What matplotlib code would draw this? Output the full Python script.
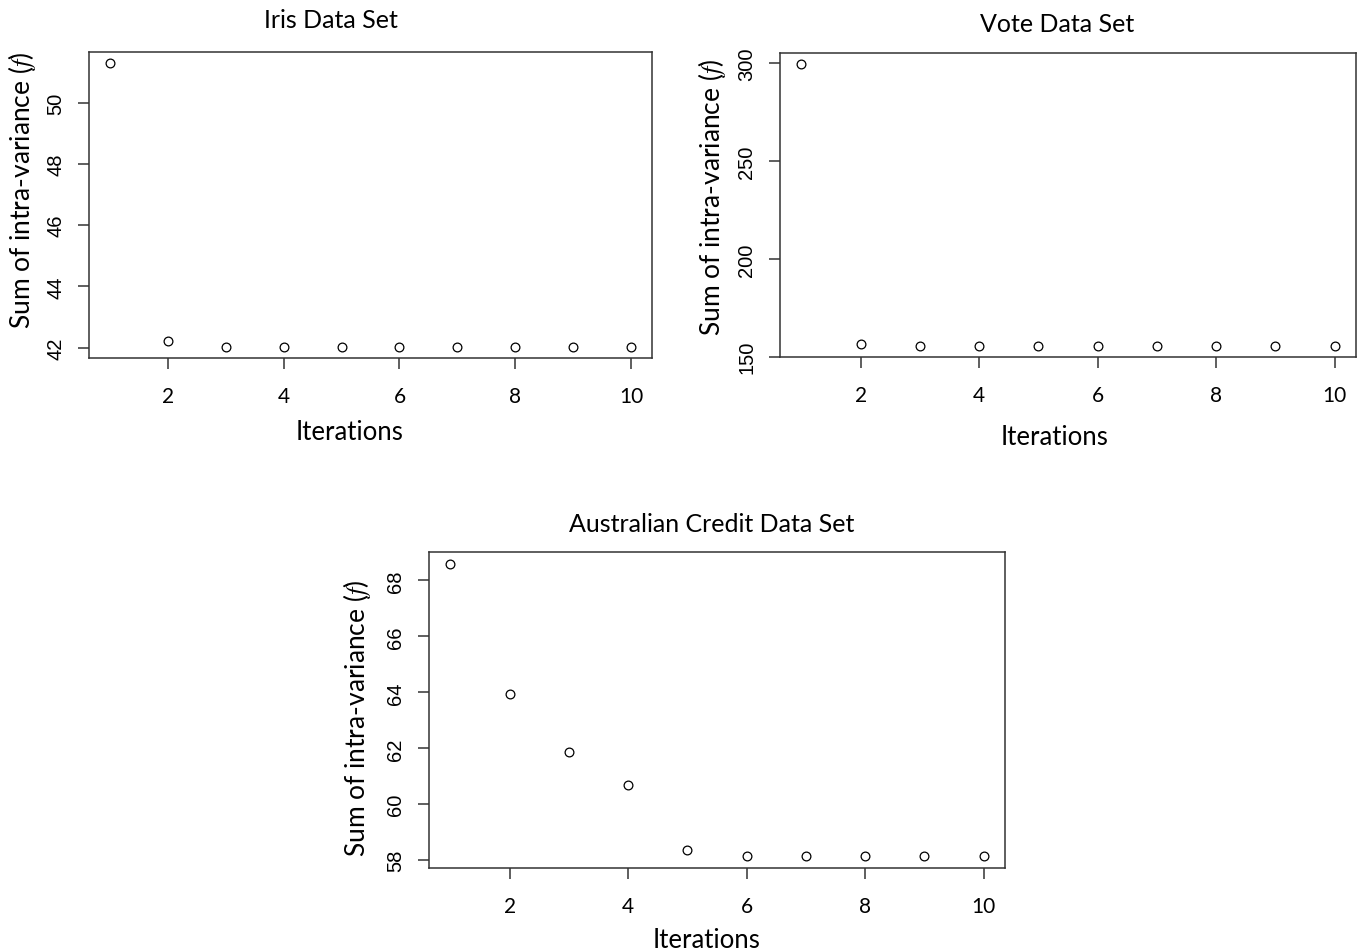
import matplotlib
matplotlib.use("Agg")
import matplotlib.pyplot as plt

plt.rcParams['mathtext.fontset'] = 'stix'

# data
iterations = [1, 2, 3, 4, 5, 6, 7, 8, 9, 10]
iris_f = [51.29, 42.20, 42.03, 42.03, 42.03, 42.03, 42.03, 42.03, 42.03, 42.03]
vote_f = [299.5, 156.7, 155.6, 155.6, 155.6, 155.6, 155.6, 155.6, 155.6, 155.6]
credit_f = [68.6, 63.95, 61.88, 60.70, 58.36, 58.14, 58.14, 58.14, 58.14, 58.14]

iris_yticks = [42, 44, 46, 48, 50]
vote_yticks = [150, 200, 250, 300]
credit_yticks = [58, 60, 62, 64, 66, 68]
x_ticks = [2, 4, 6, 8, 10]

W, H = 1359, 953
fig = plt.figure(figsize=(W / 100, H / 100), dpi=100)

def px_axes(l, t, r, b):
    return fig.add_axes([l / W, 1 - b / H, (r - l) / W, (b - t) / H])

def ftext(x, y, s, **kw):
    fig.text(x / W, 1 - y / H, s, ha='center', va='center', **kw)

def r_range(vals):
    # R style axis padding, 4% each side
    lo, hi = min(vals), max(vals)
    pad = (hi - lo) * 0.04
    return lo - pad, hi + pad

def panel(box, yvals, yticks, title_xy, xlab_xy, ylab_xy):
    ax = px_axes(*box)
    ax.plot(iterations, yvals, 'o', mfc='none', mec='black', ms=6.3, mew=0.9)
    ax.set_xlim(*r_range(iterations))
    ax.set_ylim(*r_range(yvals))
    ax.set_xticks(x_ticks)
    ax.set_yticks(yticks)
    ax.set_xticklabels([str(t) for t in x_ticks], fontsize=15, family='Lato')
    ax.set_yticklabels([str(t) for t in yticks], fontsize=14.5, family='Liberation Sans',
                       rotation=90, va='center')
    ax.tick_params(length=8, width=1.1, color='#333333')
    ax.tick_params(axis='x', pad=12)
    ax.tick_params(axis='y', pad=9)
    for sp in ax.spines.values():
        sp.set_color('#333333')
        sp.set_linewidth(1.1)
    ftext(title_xy[0], title_xy[1] + 1, title_xy[2], fontsize=18, family='Lato')
    ftext(*xlab_xy, 'Iterations', fontsize=18.5, family='Lato')
    ftext(*ylab_xy, 'Sum of intra-variance ($f$)', fontsize=19, family='Lato', rotation=90)
    return ax

panel((89, 53, 652, 359), iris_f, iris_yticks,
      (331, 20, 'Iris Data Set'), (350, 432), (22, 190))
panel((780, 54, 1356, 358), vote_f, vote_yticks,
      (1057, 24, 'Vote Data Set'), (1055, 438), (712, 197))
panel((429, 553, 1005, 869), credit_f, credit_yticks,
      (712, 524, 'Australian Credit Data Set'), (707, 941), (357, 718))

fig.savefig('out.png', dpi=100)
